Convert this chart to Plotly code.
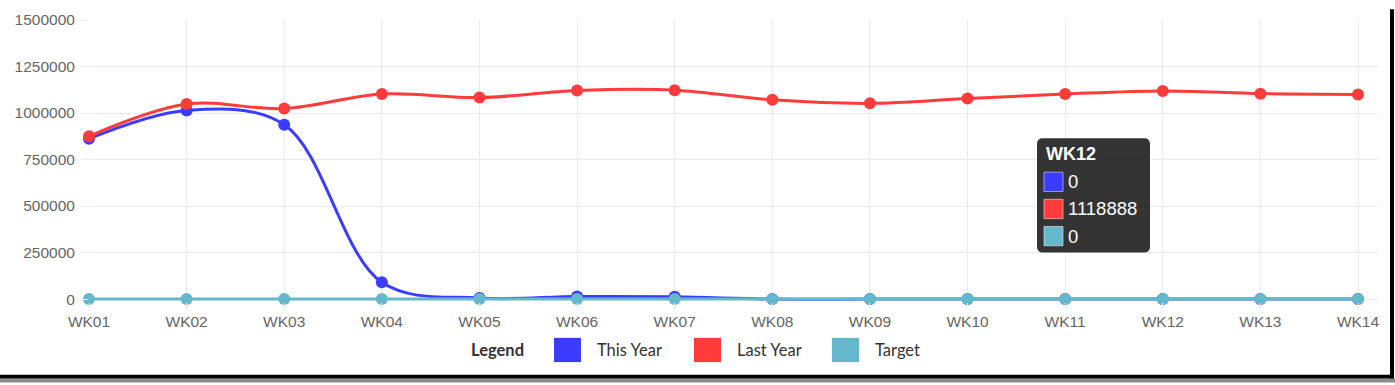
import plotly.graph_objects as go

weeks = ["WK01", "WK02", "WK03", "WK04", "WK05", "WK06", "WK07",
         "WK08", "WK09", "WK10", "WK11", "WK12", "WK13", "WK14"]
this_year = [862000, 1014000, 937000, 90000, 6000, 14000, 12000,
             0, 0, 0, 0, 0, 0, 0]
last_year = [875000, 1048000, 1024000, 1102000, 1083000, 1121000, 1123000,
             1071000, 1052000, 1078000, 1102000, 1118888, 1104000, 1100000]
target = [0] * 14
y_ticks = [0, 250000, 500000, 750000, 1000000, 1250000, 1500000]

series_names = ["This Year", "Last Year", "Target"]
series_colors = ["#3c3cff", "#ff3c3c", "#64b8cc"]
series_values = [this_year, last_year, target]

tooltip_idx = 11

W, H = 1395, 385
L, R, T, B = 89, 1378, 11, 299      # pixel positions of WK01 / right edge / 1.5M / zero
PAD = 3                              # extra px below zero so the zero line is not clipped
YMAX = 1500000
ypad_val = YMAX * PAD / (B - T)


def px(x):
    return (x - L) / (R - L)


def py(y):
    return (B + PAD - y) / (B + PAD - T)


fig = go.Figure()
for name, col, vals in zip(series_names, series_colors, series_values):
    fig.add_trace(go.Scatter(
        x=list(range(len(weeks))), y=vals, name=name, mode="lines+markers",
        line=dict(color=col, width=3, shape="spline", smoothing=1.0),
        marker=dict(color=col, size=12),
        cliponaxis=False, showlegend=False, hoverinfo="skip",
    ))

shapes = []
annotations = []

# Legend (drawn manually, centered below the chart)
legend_font = "Lato, 'Source Sans Pro', 'Open Sans', sans-serif"
annotations.append(dict(
    text="<b>Legend</b>", x=px(497), y=py(352), xref="paper", yref="paper",
    xanchor="center", yanchor="middle", showarrow=False,
    font=dict(family=legend_font, size=16.5, color="#333333")))
leg_sq = [554, 694, 832]
for name, col, x0 in zip(series_names, series_colors, leg_sq):
    shapes.append(dict(type="rect", xref="paper", yref="paper",
                       x0=px(x0), x1=px(x0 + 27), y0=py(364), y1=py(339),
                       fillcolor=col, line=dict(width=0)))
    annotations.append(dict(
        text=name, x=px(x0 + 41), y=py(352), xref="paper", yref="paper",
        xanchor="left", yanchor="middle", showarrow=False,
        font=dict(family=legend_font, size=16.5, color="#333333")))

# Tooltip box
bx0, bx1, by0, by1, r = 1037, 1150, 133, 251, 6
path = (f"M {px(bx0 + r)},{py(by0)} L {px(bx1 - r)},{py(by0)} "
        f"Q {px(bx1)},{py(by0)} {px(bx1)},{py(by0 + r)} "
        f"L {px(bx1)},{py(by1 - r)} Q {px(bx1)},{py(by1)} {px(bx1 - r)},{py(by1)} "
        f"L {px(bx0 + r)},{py(by1)} Q {px(bx0)},{py(by1)} {px(bx0)},{py(by1 - r)} "
        f"L {px(bx0)},{py(by0 + r)} Q {px(bx0)},{py(by0)} {px(bx0 + r)},{py(by0)} Z")
shapes.append(dict(type="path", path=path, xref="paper", yref="paper",
                   fillcolor="rgba(30,30,30,0.9)", line=dict(width=0)))
tip_font = "'Liberation Sans', Arial, sans-serif"
annotations.append(dict(
    text=f"<b>{weeks[tooltip_idx]}</b>", x=px(1044), y=py(149),
    xref="paper", yref="paper", xanchor="left", yanchor="middle",
    showarrow=False, font=dict(family=tip_font, size=18, color="white")))
row_y = [178, 206, 234]
for col, vals, ry in zip(series_colors, series_values, row_y):
    shapes.append(dict(type="rect", xref="paper", yref="paper",
                       x0=px(1044), x1=px(1063), y0=py(ry + 10), y1=py(ry - 10),
                       fillcolor=col, line=dict(width=1, color="rgba(255,255,255,0.5)")))
    annotations.append(dict(
        text=str(vals[tooltip_idx]), x=px(1066), y=py(ry),
        xref="paper", yref="paper", xanchor="left", yanchor="middle",
        showarrow=False, font=dict(family=tip_font, size=18.5, color="white")))

# Frame border (right and bottom)
shapes.append(dict(type="rect", xref="paper", yref="paper",
                   x0=px(0), x1=px(1395), y0=py(385), y1=py(381),
                   fillcolor="#8c8c8c", line=dict(width=0), layer="above"))
shapes.append(dict(type="rect", xref="paper", yref="paper",
                   x0=px(0), x1=px(1393), y0=py(381), y1=py(377),
                   fillcolor="#000000", line=dict(width=0), layer="above"))
shapes.append(dict(type="rect", xref="paper", yref="paper",
                   x0=px(1390), x1=px(1394), y0=py(381), y1=py(0),
                   fillcolor="#000000", line=dict(width=0), layer="above"))

axis_font = dict(family="'Liberation Sans', Arial, sans-serif", size=15.5, color="#666666")
fig.update_layout(
    width=W, height=H,
    margin=dict(l=L, r=W - R, t=T, b=H - B - PAD, pad=0),
    paper_bgcolor="white", plot_bgcolor="white",
    showlegend=False, hovermode=False,
    shapes=shapes, annotations=annotations,
    xaxis=dict(
        range=[0, (R - L) / ((1358 - 89) / 13)],
        tickmode="array", tickvals=list(range(len(weeks))), ticktext=weeks,
        showgrid=True, gridcolor="#ebebeb", gridwidth=1,
        zeroline=False, showline=False,
        ticks="outside", ticklen=5, tickcolor="#ebebeb",
        tickfont=axis_font,
    ),
    yaxis=dict(
        range=[-ypad_val, YMAX],
        tickmode="array", tickvals=y_ticks, ticktext=[str(v) for v in y_ticks],
        showgrid=True, gridcolor="#ebebeb", gridwidth=1,
        zeroline=False, showline=False,
        ticks="outside", ticklen=7, tickcolor="#ebebeb",
        ticklabelstandoff=3,
        tickfont=axis_font,
    ),
)

fig.write_html(
    "out.html",
    config={"displayModeBar": False, "staticPlot": True},
    post_script="document.body.style.margin='0';document.body.style.overflow='hidden';",
)
